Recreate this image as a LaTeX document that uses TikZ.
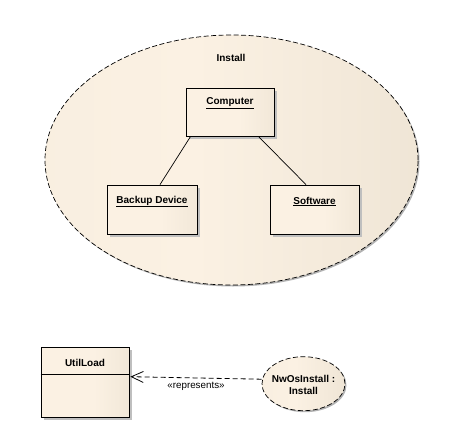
\documentclass[tikz,border=0pt]{standalone}
\usepackage{fontspec}
\setmainfont{Liberation Sans}
\usetikzlibrary{shapes.geometric,arrows.meta,calc,shadows}
\definecolor{eaL}{HTML}{FBF1E3}
\definecolor{eaR}{HTML}{E6DCCB}
\definecolor{eaM}{HTML}{F6ECDD}
\pgfdeclarehorizontalshading{eaBox}{100bp}{color(0bp)=(eaL); color(55bp)=(eaL); color(100bp)=(eaR)}
\pgfdeclarehorizontalshading{eaEll}{100bp}{color(0bp)=(eaM); color(45bp)=(eaL); color(100bp)=(eaR)}
\newcommand{\eaul}[1]{\underline{\smash{#1}\vphantom{p}}}
\begin{document}
\begin{tikzpicture}[x=1pt,y=-1pt,
  lbl/.style={font=\fontsize{10}{12}\selectfont\bfseries, inner sep=1pt},
  small/.style={font=\fontsize{9.8}{11}\selectfont, inner sep=1pt},
  shad/.style={drop shadow={shadow xshift=3pt,shadow yshift=-3pt,fill=black!25,opacity=1}},
  boxnode/.style={draw=black, line width=0.8pt, shading=eaBox, inner sep=0pt, shad},
  ellnode/.style={ellipse, draw=black, line width=0.7pt, dash pattern=on 5pt off 2.5pt, shading=eaEll, inner sep=0pt, drop shadow={shadow xshift=1.5pt,shadow yshift=-1.5pt,fill=black!30,opacity=1}},
  conn/.style={draw=black, line width=0.7pt},
  dep/.style={draw=black, line width=0.8pt, dash pattern=on 5pt off 3pt, -{Straight Barb[length=12pt,width=11pt]}}
]
\useasboundingbox (0,0) rectangle (455,436);
% Install ellipse
\node[ellnode, minimum width=373pt, minimum height=250pt] (install) at (231.5,160) {};
\node[lbl] (installlbl) at (231,58) {Install};
% boxes
\node[boxnode, minimum width=88pt, minimum height=48pt] (computer) at (230,112) {};
\node[lbl] (computerlbl) at (230,103.5) {\underline{Computer}};
\node[boxnode, minimum width=90pt, minimum height=49pt] (backup) at (152,209.5) {};
\node[lbl] (backuplbl) at (152,201.5) {\underline{Backup Device}};
\node[boxnode, minimum width=89pt, minimum height=49pt] (software) at (314.5,209.5) {};
\node[lbl] (softwarelbl) at (314.5,201.5) {\underline{Software}};
\draw[conn] ($(computer.south west)+(5,0)$) -- ($(backup.north)+(8,0)$);
\draw[conn] ($(computer.south east)+(-16,0)$) -- ($(software.north)+(-8.5,0)$);
% UtilLoad
\node[boxnode, minimum width=88pt, minimum height=70pt] (util) at (85,382) {};
\node[lbl] (utillbl) at (85,362.5) {UtilLoad};
\draw[conn, line width=0.8pt] ($(util.west)+(0,-8)$) -- ($(util.east)+(0,-8)$);
% NwOsInstall
\node[ellnode, minimum width=83pt, minimum height=54pt] (nwos) at (303.5,383.7) {};
\node[lbl, align=center] (nwoslbl) at (303.5,384.5) {NwOsInstall :\\Install};
\draw[dep] ($(nwos.west)+(0,-4.5)$) -- node[small, below=2.5pt, pos=0.5] (replbl) {«represents»} ($(util.east)+(1,-5.3)$);
\end{tikzpicture}
\end{document}
